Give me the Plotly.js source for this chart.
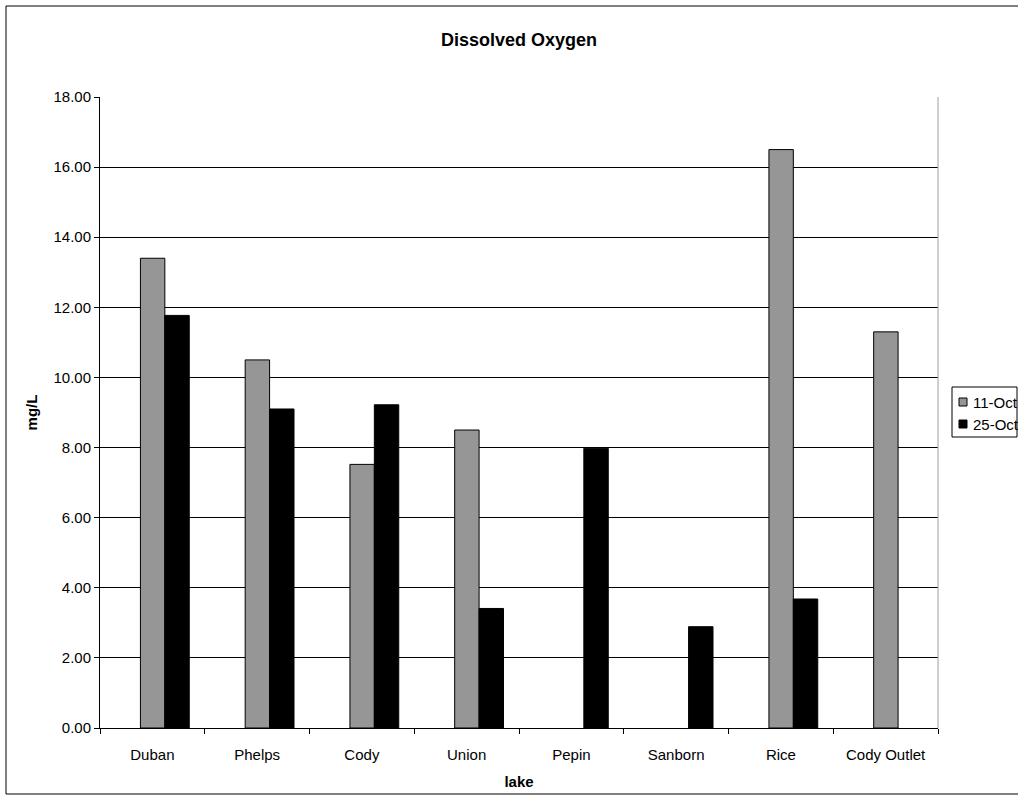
<!DOCTYPE html>
<html>
<head>
<meta charset="utf-8">
<script src="https://cdn.plot.ly/plotly-3.0.1.min.js"></script>
<style>
  html, body { margin: 0; padding: 0; background: #ffffff; }
  #chart { width: 1018px; height: 800px; }
</style>
</head>
<body>
<div id="chart"></div>
<script>
// Lakes sampled
var lakes = ["Duban", "Phelps", "Cody", "Union", "Pepin", "Sanborn", "Rice", "Cody Outlet"];
// Dissolved oxygen (mg/L) by sampling date
var oct11 = [13.40, 10.50, 7.52, 8.50, null, null, 16.50, 11.30];
var oct25 = [11.77, 9.10, 9.22, 3.41, 7.98, 2.89, 3.68, null];
var seriesNames = ["11-Oct", "25-Oct"];
var seriesColors = ["#969696", "#000000"];

var FONT = "Liberation Sans, Arial, sans-serif";
var W = 1018, H = 800;
var M = { l: 100, r: 80, t: 97, b: 72 };
var PW = W - M.l - M.r, PH = H - M.t - M.b;

// pixel -> paper helpers for the frame and key
function px(x) { return (x - M.l) / PW; }
function py(y) { return 1 - (y - M.t) / PH; }

var traces = [
  {
    type: "bar", name: seriesNames[0], x: lakes, y: oct11,
    width: 0.233, offset: -0.114,
    marker: { color: seriesColors[0], line: { color: "#000000", width: 1 } }
  },
  {
    type: "bar", name: seriesNames[1], x: lakes, y: oct25,
    width: 0.233, offset: 0.119,
    marker: { color: seriesColors[1], line: { color: "#000000", width: 1 } }
  }
];

// Key box at the right edge of the chart
var shapes = [
  // plot area right edge
  { type: "line", xref: "paper", yref: "paper", x0: 1, x1: 1, y0: 0, y1: 1,
    line: { color: "#a0a0a0", width: 1 } },
  // chart frame
  { type: "rect", xref: "paper", yref: "paper",
    x0: px(6), x1: px(1030), y0: py(794), y1: py(6),
    line: { color: "#000000", width: 1 }, fillcolor: "rgba(0,0,0,0)", layer: "below" },
  // key border
  { type: "rect", xref: "paper", yref: "paper",
    x0: px(952), x1: px(1017), y0: py(437), y1: py(387),
    line: { color: "#000000", width: 1 }, fillcolor: "#ffffff", layer: "above" }
];
var annotations = [];
seriesNames.forEach(function (name, i) {
  var cy = 402 + i * 22;
  shapes.push({
    type: "rect", xref: "paper", yref: "paper",
    x0: px(959), x1: px(967), y0: py(cy + 4), y1: py(cy - 4),
    line: { color: "#000000", width: 1 }, fillcolor: seriesColors[i], layer: "above"
  });
  annotations.push({
    xref: "paper", yref: "paper", x: px(971), y: py(cy),
    xanchor: "left", yanchor: "middle", showarrow: false,
    text: name, font: { family: FONT, size: 15, color: "#000000" }
  });
});

var layout = {
  width: W, height: H,
  paper_bgcolor: "#ffffff", plot_bgcolor: "#ffffff",
  margin: { l: M.l, r: M.r, t: M.t, b: M.b, pad: 0, autoexpand: false },
  font: { family: FONT, size: 15, color: "#000000" },
  title: {
    text: "<b>Dissolved Oxygen</b>",
    font: { family: FONT, size: 18, color: "#000000" },
    x: 0.5, xref: "paper", xanchor: "center",
    y: 1 - 40 / H, yref: "container", yanchor: "middle"
  },
  barmode: "group",
  showlegend: false,
  xaxis: {
    type: "category",
    showgrid: false,
    showline: true, linecolor: "#000000", linewidth: 1,
    ticks: "outside", tickson: "boundaries", ticklen: 5, tickcolor: "#000000",
    ticklabelstandoff: 13,
    tickfont: { family: FONT, size: 15, color: "#000000" },
    title: { text: "<b>lake</b>", font: { family: FONT, size: 15, color: "#000000" }, standoff: 14 },
    fixedrange: true
  },
  yaxis: {
    range: [0, 18], dtick: 2, tickformat: ".2f",
    showgrid: true, gridcolor: "#000000", gridwidth: 1,
    zeroline: false,
    showline: true, linecolor: "#000000", linewidth: 1,
    ticks: "outside", ticklen: 5, tickcolor: "#000000",
    tickfont: { family: FONT, size: 15, color: "#000000" },
    title: { text: "<b>mg/L</b>", font: { family: FONT, size: 15, color: "#000000" }, standoff: 12 },
    fixedrange: true
  },
  shapes: shapes,
  annotations: annotations
};

Plotly.newPlot("chart", traces, layout, { displayModeBar: false, staticPlot: true });
</script>
</body>
</html>
